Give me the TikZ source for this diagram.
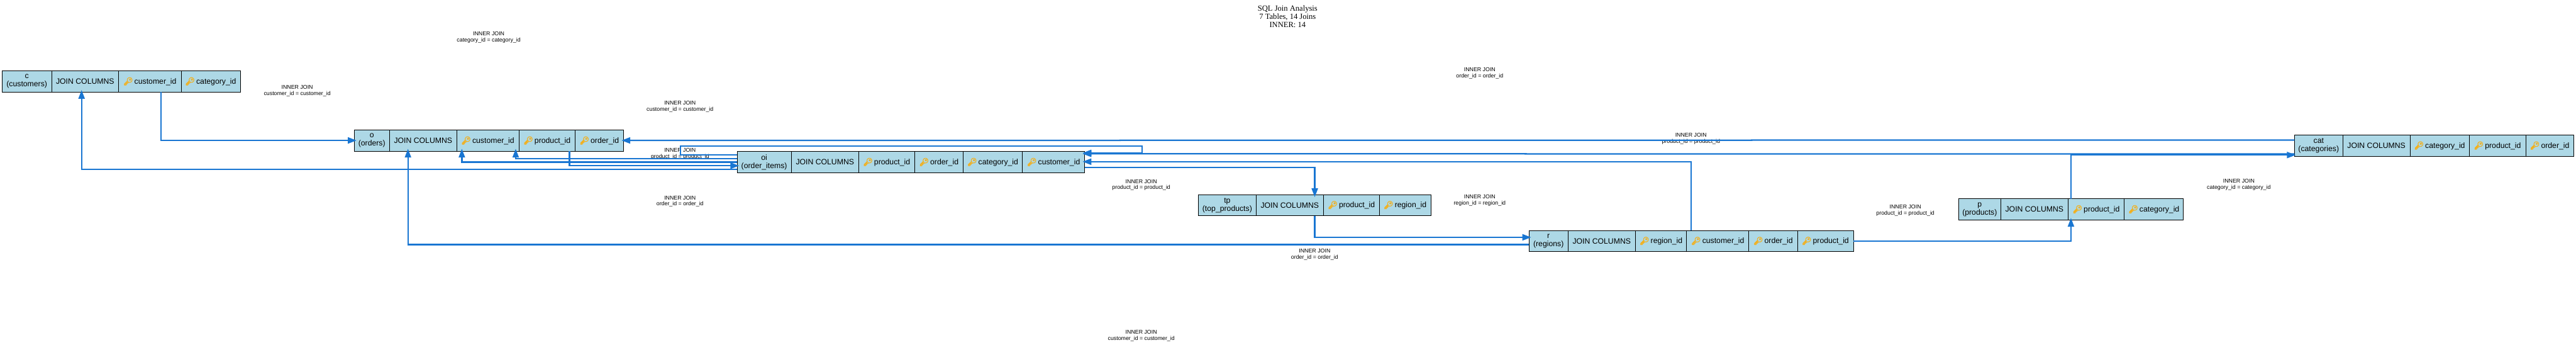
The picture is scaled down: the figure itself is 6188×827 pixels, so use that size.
\documentclass[tikz,border=0pt]{standalone}
\usepackage{fontspec}
\setmainfont{Liberation Sans}
\newfontfamily\titlefont{Liberation Serif}
\newfontfamily\emojifont[FakeBold=4]{Noto Emoji}
\usetikzlibrary{positioning, arrows.meta}
\definecolor{joinblue}{HTML}{1976D2}
\definecolor{celfill}{HTML}{ADD8E6}
\definecolor{keygold}{HTML}{F2B01E}
\newcommand{\keyicon}{{\color{keygold}\emojifont 🔑}\,}

\begin{document}
\begin{tikzpicture}[
      x=1pt, y=-1pt,
      node distance=0pt,
      cell/.style={rectangle, draw=black, line width=1.2pt, fill=celfill, outer sep=0pt, inner sep=0pt, minimum height=51pt, align=center, font=\fontsize{18.5}{19.6}\selectfont},
      joinlabel/.style={inner sep=0pt, align=center, font=\fontsize{13.33}{14.8}\selectfont},
      joinedge/.style={-{Triangle[length=21pt, width=15pt]}, line width=3.4pt, draw=joinblue}
  ]
  \useasboundingbox (0,0) rectangle (6188,827);

  % Title
  \node[inner sep=0pt, align=center, font=\titlefont\fontsize{19}{20}\selectfont] (title) at (3093,40) {SQL Join Analysis\\7 Tables, 14 Joins\\INNER: 14};

  % Labels
  \node[joinlabel] (l1) at (1174,90) {INNER JOIN\\category\_id = category\_id};
  \node[joinlabel] (l2) at (714,218) {INNER JOIN\\customer\_id = customer\_id};
  \node[joinlabel] (l3) at (1633.5,256) {INNER JOIN\\customer\_id = customer\_id};
  \node[joinlabel] (l4) at (1633.5,369) {INNER JOIN\\product\_id = product\_id};
  \node[joinlabel] (l5) at (1633.5,483) {INNER JOIN\\order\_id = order\_id};
  \node[joinlabel] (l6) at (2741.5,444) {INNER JOIN\\product\_id = product\_id};
  \node[joinlabel] (l7) at (3554.5,176) {INNER JOIN\\order\_id = order\_id};
  \node[joinlabel] (l8) at (3554.5,481) {INNER JOIN\\region\_id = region\_id};
  \node[joinlabel] (l9) at (3158,611) {INNER JOIN\\order\_id = order\_id};
  \node[joinlabel] (l10) at (4062,333) {INNER JOIN\\product\_id = product\_id};
  \node[joinlabel] (l11) at (4577,505) {INNER JOIN\\product\_id = product\_id};
  \node[joinlabel] (l12) at (5378,443) {INNER JOIN\\category\_id = category\_id};
  \node[joinlabel] (l13) at (2741.5,805.5) {INNER JOIN\\customer\_id = customer\_id};

  % Table c
  \node[cell, minimum width=119pt, anchor=north west] (c) at (5,170) {c\\(customers)};
  \node[cell, minimum width=161pt, right=of c] (cjoin) {JOIN COLUMNS};
  \node[cell, minimum width=150pt, right=of cjoin] (ccust) {\keyicon customer\_id};
  \node[cell, minimum width=142pt, right=of ccust] (ccat) {\keyicon category\_id};

  % Table o
  \node[cell, minimum width=85.5pt, anchor=north west] (o) at (850.5,312) {o\\(orders)};
  \node[cell, minimum width=161pt, right=of o] (ojoin) {JOIN COLUMNS};
  \node[cell, minimum width=149.5pt, right=of ojoin] (ocust) {\keyicon customer\_id};
  \node[cell, minimum width=135pt, right=of ocust] (oprod) {\keyicon product\_id};
  \node[cell, minimum width=116pt, right=of oprod] (oord) {\keyicon order\_id};

  % Table oi
  \node[cell, minimum width=130.5pt, anchor=north west] (oi) at (1770.5,363.5) {oi\\(order\_items)};
  \node[cell, minimum width=161.5pt, right=of oi] (oijoin) {JOIN COLUMNS};
  \node[cell, minimum width=134.5pt, right=of oijoin] (oiprod) {\keyicon product\_id};
  \node[cell, minimum width=116.5pt, right=of oiprod] (oiord) {\keyicon order\_id};
  \node[cell, minimum width=142.5pt, right=of oiord] (oicat) {\keyicon category\_id};
  \node[cell, minimum width=149.5pt, right=of oicat] (oicust) {\keyicon customer\_id};

  % Table tp
  \node[cell, minimum width=139pt, anchor=north west] (tp) at (2878.5,467) {tp\\(top\_products)};
  \node[cell, minimum width=161.5pt, right=of tp] (tpjoin) {JOIN COLUMNS};
  \node[cell, minimum width=134.5pt, right=of tpjoin] (tpprod) {\keyicon product\_id};
  \node[cell, minimum width=123.5pt, right=of tpprod] (tpreg) {\keyicon region\_id};

  % Table r
  \node[cell, minimum width=93.5pt, anchor=north west] (r) at (3673,553) {r\\(regions)};
  \node[cell, minimum width=162pt, right=of r] (rjoin) {JOIN COLUMNS};
  \node[cell, minimum width=123pt, right=of rjoin] (rreg) {\keyicon region\_id};
  \node[cell, minimum width=149.5pt, right=of rreg] (rcust) {\keyicon customer\_id};
  \node[cell, minimum width=116.5pt, right=of rcust] (rord) {\keyicon order\_id};
  \node[cell, minimum width=134.5pt, right=of rord] (rprod) {\keyicon product\_id};

  % Table p
  \node[cell, minimum width=102pt, anchor=north west] (p) at (4704.5,477) {p\\(products)};
  \node[cell, minimum width=161pt, right=of p] (pjoin) {JOIN COLUMNS};
  \node[cell, minimum width=135.5pt, right=of pjoin] (pprod) {\keyicon product\_id};
  \node[cell, minimum width=142pt, right=of pprod] (pcat) {\keyicon category\_id};

  % Table cat
  \node[cell, minimum width=116.5pt, anchor=north west] (cat) at (5511.5,324) {cat\\(categories)};
  \node[cell, minimum width=161pt, right=of cat] (catjoin) {JOIN COLUMNS};
  \node[cell, minimum width=142.5pt, right=of catjoin] (catcat) {\keyicon category\_id};
  \node[cell, minimum width=135.5pt, right=of catcat] (catprod) {\keyicon product\_id};
  \node[cell, minimum width=115.5pt, right=of catprod] (catord) {\keyicon order\_id};

  % Joins
  \draw[joinedge] ([xshift=26.5pt]ccust.south) |- ([xshift=6pt, yshift=0.5pt]o.west);
  \draw[joinedge] ([yshift=-17.5pt]oi.west) -| ([xshift=-8.5pt, yshift=5pt]cjoin.south);
  \draw[joinedge] ([yshift=-8.5pt]r.west) -| ([xshift=-36.5pt, yshift=6pt]ojoin.south);
  \draw[joinedge] ([yshift=13.5pt]cat.west) -- ([xshift=-4.5pt, yshift=0.5pt]oord.east);
  \draw[joinedge] ([yshift=8.7pt]oi.west) -| ([xshift=67pt, yshift=6pt]ocust.south);
  \draw[joinedge] (oi.west) -| ([xshift=-62.3pt, yshift=6pt]ocust.south);
  \draw[joinedge] ([xshift=54pt]oprod.south) |- ([xshift=5pt, yshift=-8.7pt]oi.west);
  \draw[joinedge] ([yshift=17.3pt]oi.west) -- ++(-135.5,0) -- ++(0,-21.7) -- ++(1108,0) -- ++(0,17) -- ([xshift=-5pt, yshift=22pt]oicust.east);
  \draw[joinedge] ([yshift=-13pt]oicust.east) -| ([xshift=60pt, yshift=-6pt]tpjoin.north);
  \draw[joinedge] ([xshift=-64pt]rcust.north) |- ([xshift=-5pt, yshift=1pt]oicust.east);
  \draw[joinedge] ([yshift=-20pt]cat.west) -- ([xshift=-5pt, yshift=20pt]oicust.east);
  \draw[joinedge] ([xshift=60pt]tpjoin.south) |- ([xshift=5pt, yshift=9pt]r.west);
  \draw[joinedge] (rprod.east) -| ([xshift=-60.5pt, yshift=5pt]pprod.south);
  \draw[joinedge] ([xshift=-60.5pt]pprod.north) |- ([xshift=3pt, yshift=-22.5pt]cat.west);
\end{tikzpicture}
\end{document}
